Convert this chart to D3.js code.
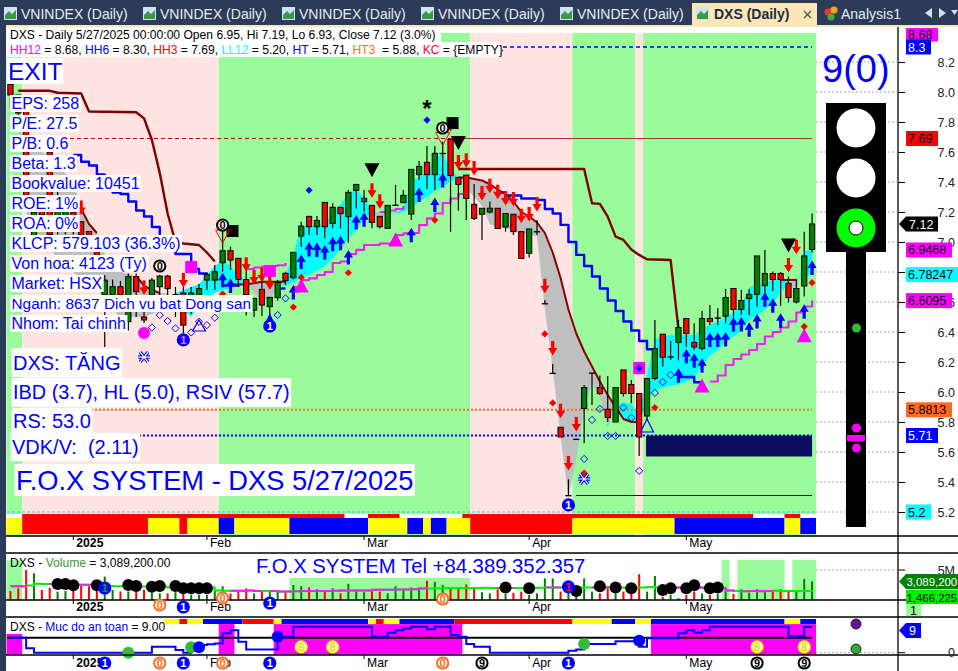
<!DOCTYPE html>
<html><head><meta charset="utf-8">
<script src="https://cdnjs.cloudflare.com/ajax/libs/d3/7.8.5/d3.min.js"></script>
<style>html,body{margin:0;padding:0;background:#fff;overflow:hidden}svg{display:block}text{font-family:"Liberation Sans",Arial,sans-serif}</style>
</head><body><div id="chart"></div>
<script>
// ---------- price data, oldest first ----------
const opens=[8.05,7.98,7.88,7.04,7.28,7.6,7.1,7.12,7.2,7.135,7.07,6.98,6.646,6.646,6.702,6.469,6.769,6.5,6.646,6.702,6.773,6.55,6.66,6.55,6.646,6.746,6.746,6.862,6.942,6.891,6.75,6.546,6.684,6.569,6.629,6.791,6.762,7.04,7.171,7.102,7.264,7.124,7.231,7.169,7.344,7.269,7.244,7.171,7.091,7.246,7.262,7.186,7.449,7.531,7.449,7.591,7.684,7.431,7.446,7.251,7.185,7.2,7.225,7.1,7.185,7.069,6.925,7.069,6.589,6.125,5.765,5.31,5.685,5.89,6.127,6.03,5.885,5.8,6.147,6.05,5.99,5.84,6.09,6.385,6.234,6.33,6.49,6.33,6.29,6.49,6.494,6.505,6.69,6.55,6.623,6.651,6.709,6.79,6.79,6.725,6.6,6.707,6.95];
const highs=[8.05,7.98,7.88,7.3,7.3,7.6,7.4,7.3,7.25,7.135,7.07,6.99,6.78,6.75,6.74,6.79,6.79,6.6,6.76,6.78,6.78,6.7,6.7,6.7,6.72,6.79,6.846,7.08,6.969,6.891,6.81,6.624,6.746,6.631,6.746,6.802,6.931,7.135,7.171,7.173,7.264,7.258,7.231,7.346,7.384,7.346,7.244,7.171,7.244,7.38,7.346,7.484,7.54,7.64,7.64,7.67,7.684,7.431,7.446,7.386,7.225,7.27,7.225,7.19,7.185,7.069,7.087,7.147,6.614,6.187,5.765,5.418,5.685,6.047,6.127,6.11,6.107,6.03,6.147,6.08,5.99,6.09,6.48,6.385,6.34,6.48,6.49,6.458,6.54,6.58,6.558,6.687,6.69,6.68,6.687,6.907,6.947,6.803,6.8,6.77,6.75,7.069,7.19];
const lows=[7.89,7.84,7.28,7.0,7.1,7.04,7.05,7.05,7.05,7.03,6.95,6.86,6.3,6.6,6.62,6.41,6.5,6.46,6.6,6.646,6.646,6.5,6.39,6.52,6.6,6.68,6.68,6.802,6.813,6.713,6.51,6.5,6.506,6.48,6.609,6.713,6.75,6.969,7.046,7.046,7.024,7.091,7.091,6.995,7.224,7.202,7.091,7.09,7.091,7.246,7.26,7.146,7.413,7.353,7.346,7.43,7.069,7.209,7.146,7.146,7.014,7.19,7.09,7.069,7.047,6.89,6.896,7.047,6.589,6.125,5.7,5.31,5.685,5.658,5.914,5.98,5.8,5.8,5.97,5.925,5.574,5.81,6.08,6.17,6.214,6.21,6.3,6.28,6.276,6.447,6.447,6.458,6.48,6.514,6.514,6.569,6.636,6.674,6.575,6.596,6.59,6.636,6.93];
const closes=[7.98,7.86,7.3,7.2,7.18,7.05,7.3,7.22,7.1,7.046,6.98,6.9,6.746,6.702,6.646,6.769,6.669,6.48,6.746,6.773,6.689,6.65,6.446,6.66,6.69,6.784,6.802,6.942,6.88,6.751,6.65,6.624,6.58,6.631,6.731,6.742,6.931,7.106,7.102,7.144,7.102,7.231,7.189,7.331,7.384,7.291,7.131,7.102,7.244,7.246,7.311,7.484,7.504,7.449,7.591,7.591,7.442,7.384,7.291,7.157,7.225,7.225,7.09,7.19,7.069,6.89,7.087,7.069,6.589,6.125,5.7,5.31,5.685,6.03,6.127,5.99,5.83,6.03,5.99,5.99,5.7,6.09,6.29,6.232,6.234,6.43,6.39,6.3,6.49,6.47,6.494,6.63,6.55,6.61,6.651,6.907,6.79,6.75,6.75,6.63,6.69,6.907,7.12];
// cloud between two averages
const cloudSlow=[8,7.75,7.72,7.66,7.6,7.57,7.5,7.46,7.4,7.22,7.12,7.06,6.92,6.84,6.8,6.79,6.77,6.71,6.68,6.66,6.66,6.6,6.55,6.5,6.58,6.62,6.66,6.68,6.69,6.71,6.735,6.735,6.735,6.73,6.72,6.71,6.73,6.76,6.78,6.81,6.84,6.89,6.95,7.02,7.08,7.16,7.2,7.2,7.2,7.19,7.2,7.23,7.27,7.3,7.34,7.37,7.4,7.43,7.43,7.42,7.41,7.385,7.35,7.32,7.27,7.2,7.17,7.13,7.06,6.93,6.76,6.55,6.39,6.27,6.17,6.07,5.98,5.9,5.82,5.8,5.8,5.95,6.01,6.03,6.04,6.05,6.07,6.09,6.18,6.24,6.28,6.33,6.37,6.41,6.48,6.51,6.55,6.59,6.66,6.72,6.76,6.78,6.782];
const cloudFast=[8,7.75,7.2,7.05,7,6.95,6.9,6.85,6.8,6.75,6.72,6.7,6.6,6.55,6.5,6.5,6.5,6.5,6.52,6.54,6.6,6.66,6.68,6.7,6.72,6.78,6.84,6.88,6.84,6.78,6.74,6.66,6.62,6.62,6.7,6.78,6.92,7.1,7.1,7.115,7.115,7.2,7.25,7.33,7.35,7.3,7.2,7.16,7.19,7.2,7.22,7.41,7.43,7.47,7.56,7.59,7.5,7.42,7.36,7.3,7.24,7.12,7.1,7.09,7.08,7.06,7.05,7.04,6.55,6.15,5.7,5.3,5.55,5.9,6.06,5.97,5.76,5.92,5.93,5.92,5.85,6.12,6.35,6.37,6.38,6.38,6.38,6.38,6.42,6.45,6.47,6.5,6.53,6.58,6.7,6.72,6.73,6.75,6.76,6.74,6.66,6.94,6.947];
// index / value line pieces
const trailLeft=[[1,8.008],[5,8.008],[6,7.995],[9,7.99],[10,7.87],[16,7.865],[17,7.824],[18,7.68],[19,7.46],[20,7.19],[21,7],[22,6.99],[24,6.98],[25,6.93],[26,6.87]];
const trailRight=[[57,7.487],[73,7.487],[74,7.258],[75,7.254],[76,7.169],[77,7.036],[78,7.014],[79,6.95],[80,6.914],[81,6.885],[84,6.88],[85,6.42]];
const emaLeft=[[9,7.22],[10,7.12],[11,7.06]];
const emaGap=[[16,6.77],[17,6.71],[18,6.68],[19,6.66]];
const emaRight=[[57,7.43],[58,7.43],[59,7.42],[60,7.41],[61,7.385],[62,7.35],[63,7.32],[64,7.27],[65,7.2],[66,7.17],[67,7.13],[68,7.06],[69,6.93],[70,6.76],[71,6.55],[72,6.39],[73,6.27],[74,6.17],[75,6.07],[76,5.98],[77,5.9],[78,5.82],[79,5.8],[80,5.8]];
const emaStub=[[28,6.717],[30,6.717],[32,6.735],[35,6.735]];
const emaStub2=[[98,6.747],[100,6.747]];
const blueStepA=[[8,7.58],[9,7.535],[10,7.51],[11,7.45],[12,7.4],[13,7.33],[14,7.32],[15,7.27],[16,7.21],[17,7.17],[18,7.1],[19,7.03],[20,6.95],[21,6.92],[22,6.92],[23,6.82],[24,6.79],[25,6.76]];
const blueStepB=[[27,6.71],[29,6.7]];
const blueStepC=[[34,6.69],[35,6.69]];
const blueStepD=[[62,7.33],[63,7.31],[64,7.31],[65,7.29],[66,7.29],[67,7.28],[68,7.22],[69,7.19],[70,7.114],[71,7],[72,6.914],[73,6.84],[74,6.77],[75,6.69],[76,6.61],[77,6.54],[78,6.47],[79,6.41],[80,6.34],[81,6.285],[82,6.28]];
const blueStepE=[[85,6.1],[86,6.1],[87,6.065],[88,6.065]];
const magentaUpper=[[30,6.82],[31,6.83],[32,6.835],[33,6.84],[34,6.845],[35,6.86]];
const magentaShort=[[47,7.2],[48,7.21],[49,7.22],[50,7.24]];
const magentaStopA=[[36,6.7],[37,6.746],[38,6.757],[39,6.78],[40,6.8],[41,6.86],[42,6.87],[43,6.92],[44,6.947],[45,6.98],[46,6.98],[47,6.99],[48,6.99],[49,7.046],[50,7.057],[51,7.06],[52,7.113],[53,7.158],[54,7.19],[55,7.26],[56,7.29],[57,7.32],[58,7.32]];
const magentaStopB=[[89,6.07],[90,6.11],[91,6.18],[92,6.22],[93,6.25],[94,6.28],[95,6.32],[96,6.37],[97,6.4],[98,6.43],[99,6.47],[100,6.53],[101,6.57],[102,6.6095]];
// signal markers: [bar, price]
const upArrows=[[27,6.795],[28,6.757],[36,6.713],[37,6.917],[38,7],[39,6.997],[40,6.98],[41,7.035],[42,7.042],[43,6.946],[44,7.18],[45,7.198],[51,7.095],[52,7.364],[54,7.297],[55,7.46],[85,6.158],[86,6.287],[87,6.258],[88,6.225],[89,6.396],[90,6.396],[91,6.4],[92,6.498],[93,6.5],[94,6.465],[95,6.52],[96,6.665],[97,6.625],[98,6.525],[101,6.585],[102,6.876]];
const downArrows=[[9,7.18],[17,6.646],[22,6.697],[30,6.802],[31,6.717],[32,6.731],[33,6.68],[46,7.295],[47,7.222],[56,7.735],[57,7.484],[58,7.495],[59,7.443],[60,7.276],[61,7.325],[62,7.285],[63,7.243],[64,7.236],[65,7.125],[66,7.136],[67,7.203],[68,6.658],[69,6.243],[70,5.825],[71,5.476],[72,5.736],[99,6.796],[100,6.918]];
const blackDown=[[46,7.431],[57,7.613],[99,6.93]];
const magentaUp=[[37,6.757],[49,7.064],[88,6.09],[101,6.425]];
const redDiamonds=[[27,6.653],[36,6.566],[37,6.764],[43,6.795],[54,7.146],[68,6.387],[69,5.927],[82,5.896],[102,6.729],[101,6.436],[73,5.46]];
const blueDiamonds=[[38,7.345],[53,7.813],[80,6.16]];
const openDiamonds=[[35,6.624],[34,6.513],[18,6.43],[19,6.513],[20,6.473],[21,6.424],[23,6.397],[24,6.468],[25,6.446],[26,6.495],[75,5.887],[74,5.814],[73,5.554],[76,5.707],[77,5.707],[78,5.896],[79,5.827],[80,5.474],[82,5.994],[83,6.067],[84,6.114]];
const magentaSquares=[[23,6.833],[33,6.807],[80,6.16]];
const blackSquares=[[28,7.073],[56,7.793]];
const blueOnes=[[22,6.347],[33,6.44],[71,5.247]];
const zeroBadges=[[19,6.84],[27,7.113],[55,7.76]];
const redOutline=[[27,7.08],[55,7.73]];
const snowflakes=[[17,6.233],[73,5.42]];
const levels={hh6:8.3,ht:5.71,ht3:5.8813,hh3:7.69,ll12:5.2,low:5.31};
// bands and ribbons: [firstBar, endBar, kind]
const regime=[[0,2,"g"],[2,27,"p"],[27,59,"g"],[59,72,"p"],[72,80,"g"],[80,81,"p"],[81,103,"g"]];
const ribbonMain=[[0,2,"y"],[2,18,"r"],[18,22,"y"],[22,23,"r"],[23,27,"y"],[27,29,"b"],[29,36,"y"],[36,46,"b"],[46,51,"y"],[51,53,"b"],[53,54,"y"],[54,56,"b"],[56,59,"y"],[59,72,"r"],[72,85,"y"],[85,99,"b"],[99,101,"y"],[101,103,"b"]];
const ribbonThin=[[2,43,"r"],[46,50,"r"],[58,95,"r"],[99,101,"r"]];
const ribbonSafety=[[20,22,"y"],[22,23,"r"],[23,25,"y"],[25,30,"b"],[30,34,"r"],[34,35,"y"],[35,46,"b"],[46,47,"y"],[47,48,"r"],[48,50,"y"],[50,57,"b"],[57,72,"r"],[72,77,"y"],[77,80,"b"],[80,82,"y"],[82,99,"b"],[99,101,"y"],[101,103,"b"]];
const safetyFill=[[0,2,6.5],[27,29,9.9],[34,58,9.9],[82,103,9.9]];
const volumeShade=[[0,2,6.7],[36,59,3.7],[91,92,6.7],[93,99,6.7],[100,103,6.7]];
// volume, millions
const volumes=[1.5,1.95,5,4.45,1.67,2.05,1.4,1.5,1.7,2.5,2.3,1.7,3.9,1.7,1.4,1.4,1.7,1.7,1.2,1.1,1.1,1.3,1.1,0.85,0.85,0.85,1.7,2.3,1.1,1.5,1.95,1.1,1.5,1.5,1.5,1.5,2.5,2.3,2.1,1.8,1.5,1.95,1.1,2.7,1.7,1.3,1.8,1.4,1.1,2.3,1.8,2.1,2.1,3.2,3,2.5,2.1,2.1,2.6,2.1,1.3,1.1,1.8,1,1.2,1.4,0.85,1.1,3.6,3.6,1.4,2.2,0.7,3.6,1.4,1.1,1.95,1.1,1.4,1.1,4.3,1.4,4.0,0.55,0.85,0.3,0.85,1.4,1.1,0.85,1,1.5,1,1.8,1.2,1.8,1.4,1.4,1.8,1.4,1.5,3.5,3.089];
const volMA=[2.3,2.3,2.4,2.7,2.65,2.65,2.65,2.6,2.55,2.55,2.55,2.4,2.35,2.3,2.3,2.3,2.25,2.25,2.2,2.2,2.1,2.1,2.1,2.1,2.1,2.1,1.6,1.55,1.55,1.55,1.6,1.5,1.5,1.5,1.4,1.4,1.45,1.5,1.5,1.5,1.5,1.55,1.6,1.6,1.6,1.6,1.7,1.7,1.7,1.75,1.75,1.8,1.9,1.9,1.95,2,2,2,2,2,2.05,2,2,2,2,2,2,2.05,2.1,2.1,2.1,2.1,2.1,2.1,2.1,2.1,2.15,2.1,2.1,2.1,2.1,2.15,2.1,2.1,2.1,2.1,2.1,2.1,2.05,2.05,2,1.6,1.5,1.45,1.5,1.45,1.5,1.55,1.5,1.5,1.5,1.5,1.466];
const volMAMagenta=[[0,2],[5,11],[28,32],[33,36],[36,53],[62,64],[68,70],[74,76],[84,92],[93,97]];
const volDots=[[6,2.65],[7,2.65],[8,2.45],[11,2.45],[15,2.5],[16,2.35],[18,2.2],[19,2.35],[21,2.35],[22,1.95],[23,1.95],[24,1.95],[25,1.95],[63,2.1],[66,1.95],[72,1.5],[75,2.3],[77,2.1],[79,1.95],[83,1.65],[84,1.95],[86,1.95],[87,2.45],[89,1.95],[90,2.1]];
const volOnes=[[12,2],[71,2.2]];
// safety level
const safety=[5.2,5.2,1.5,0,0,0,0,0,0,0,0,0,0,0,0,0,0,0,2.1,2.1,2.1,0.9,0,1.8,2.65,2.9,3.2,6.7,7.8,3.8,1.15,1.15,1.15,1.15,5.5,5.5,9,9,9,9,9,9,9,9,9,9,5.5,5.5,6.9,7.8,8.4,9,9,8.1,9,9,6.1,5.5,3,2.1,2.1,0,0,0,0,0,0,0,0,0,0,0.7,1.15,3,3,3,3,4,4,4,2.1,5,5,5,5,6.7,7.8,6.9,7.8,9,9,9,9,9,9,9,9,9,9,5.8,5.8,9,9];
const safetyDots=[[15,0,"#33bb33"],[23,1.9,"#33bb33"],[24,1.9,"#0000ff"],[34,5.5,"#0000ff"],[73,3,"#33bb33"],[80,4.1,"#0000ff"]];
const safetyEights=[[37,2],[41,2],[95,2],[101,2]];
const axisBars=[8,25,45,66,86];
const axisNames=["2025","Feb","Mar","Apr","May"];
const rowOnes=[12,22,33,71];
const rowZeros=[19,27,55];
const rowNines=[60,95,101];
const priceTicks=[8.2,8,7.8,7.6,7.4,7.2,7,6.8,6.6,6.4,6.2,6,5.8,5.6,5.4,5.2];
const infoRows=["EPS: 258","P/E: 27.5","P/B: 0.6","Beta: 1.3","Bookvalue: 10451","ROE: 1%","ROA: 0%","KLCP: 579.103 (36.3%)","Von hoa: 4123 (Ty)","Market: HSX","Nganh: 8637 Dich vu bat Dong san","Nhom: Tai chinh"];
const infoSizes=[16,16,16,16,16,16,16,16,16,16,15.4,16];
const headerRow2=[["HH12","#ff00ff"],[" = 8.68, ","#000"],["HH6","#0000ff"],[" = 8.30, ","#000"],["HH3","#ff0000"],[" = 7.69, ","#000"],["LL12","#00ffff"],[" = 5.20, ","#000"],["HT","#0000ff"],[" = 5.71, ","#000"],["HT3","#ff6a20"],["  = 5.88, ","#000"],["KC","#ff0033"],[" = {EMPTY}","#000"]];
const priceTags=[["8.3",8.3,"#0000ff","#fff",25],["7.69",7.69,"#ff0000","#000",32],["6.9468",6.9468,"#ff00ff","#000",46],["6.78247",6.78247,"#00ffff","#000",52],["6.6095",6.6095,"#ff00ff","#000",46],["5.8813",5.8813,"#ff6a20","#000",46],["5.71",5.71,"#0000ff","#fff",32],["5.2",5.2,"#00ffff","#000",25]];
const tabStarts=[4,143,282,421,560];

// ---------- layout ----------
const W=958,H=671;
const colors={g:"#99fb99",p:"#ffe4e1",r:"#ff0000",y:"#ffff00",b:"#0000ff"};
const svg=d3.select("#chart").append("svg").attr("width",W).attr("height",H).attr("viewBox",`0 0 ${W} ${H}`);
const bars=d3.range(opens.length);
const xBand=d3.scaleBand().domain(bars).range([6.5,816]);
const bw=xBand.bandwidth();
const x=i=>xBand(i)+bw/2;
const xEdge=i=>6.5+i*bw;
const y=d3.scaleLinear().domain([8.2,5.2]).range([62,512]);
const yVol=d3.scaleLinear().domain([0,5]).range([600,570]);
const ySafe=d3.scaleLinear().domain([0,9]).range([652.7,626.7]);
const defs=svg.append("defs");

// background frame
svg.append("rect").attr("width",W).attr("height",25).attr("fill","#2c3b58");
svg.append("rect").attr("x",0).attr("width",6).attr("height",H).attr("fill","#2c3b58");
svg.append("rect").attr("x",6).attr("y",25).attr("width",W-6).attr("height",2).attr("fill","#fbe7b5");

// tabs
const tabG=svg.append("g");
tabStarts.forEach(t=>{
  tabG.append("rect").attr("x",t).attr("y",7).attr("width",13).attr("height",13).attr("fill","#cfe3f4");
  tabG.append("path").attr("d",`M${t+1} 19 L${t+1} 15 L${t+5} 11 L${t+8} 14 L${t+12} 10 L${t+12} 19Z`).attr("fill","#3a9a4a");
  tabG.append("text").attr("x",t+17).attr("y",19).attr("font-size",14).attr("fill","#e6ecf3").text("VNINDEX (Daily)");
});
tabG.append("rect").attr("x",692).attr("y",3).attr("width",125).attr("height",22).attr("fill","#fbe7b5");
tabG.append("rect").attr("x",696).attr("y",7).attr("width",13).attr("height",13).attr("fill","#cfe3f4");
tabG.append("path").attr("d","M697 19 L697 15 L701 11 L704 14 L708 10 L708 19Z").attr("fill","#3a9a4a");
tabG.append("text").attr("x",714).attr("y",19).attr("font-size",14).attr("font-weight","bold").attr("fill","#1c2a44").text("DXS (Daily)");
tabG.append("path").attr("d","M804 11 L811 18 M811 11 L804 18").attr("stroke","#555").attr("stroke-width",1.3);
[["#e23b2e",828,12],["#f2a21a",834,10],["#3fae49",831,17]].forEach(c=>tabG.append("circle").attr("cx",c[1]).attr("cy",c[2]).attr("r",3.6).attr("fill",c[0]));
tabG.append("text").attr("x",841).attr("y",19).attr("font-size",14).attr("fill","#e6ecf3").text("Analysis1");
tabG.append("path").attr("d","M932 8 L925 13 L932 18Z M939 8 L946 13 L939 18Z M951 10 L958 10 L954.5 15Z").attr("fill","#d7dde6");

// regime bands
svg.append("g").selectAll("rect").data(regime).join("rect")
  .attr("x",d=>xEdge(d[0])).attr("width",d=>(d[1]-d[0])*bw).attr("y",33).attr("height",481)
  .attr("fill",d=>colors[d[2]]);

// cloud (difference chart): gray where fast is under slow, cyan where fast is over slow
const areaAbove=d3.area().x(i=>x(i)).y0(0).y1(i=>y(cloudFast[i]));
const areaBelow=d3.area().x(i=>x(i)).y0(H).y1(i=>y(cloudFast[i]));
const areaBetween=d3.area().x(i=>x(i)).y0(i=>y(cloudSlow[i])).y1(i=>y(cloudFast[i]));
defs.append("clipPath").attr("id","clipAbove").append("path").attr("d",areaAbove(bars));
defs.append("clipPath").attr("id","clipBelow").append("path").attr("d",areaBelow(bars));
svg.append("path").attr("d",areaBetween(bars)).attr("fill","#bfbfbf").attr("clip-path","url(#clipAbove)");
svg.append("path").attr("d",areaBetween(bars)).attr("fill","#00ffff").attr("clip-path","url(#clipBelow)");

// level lines
const hline=(v,x0,x1,col,w,dash)=>svg.append("line").attr("x1",x0).attr("x2",x1).attr("y1",y(v)).attr("y2",y(v)).attr("stroke",col).attr("stroke-width",w).attr("stroke-dasharray",dash||null);
hline(levels.ll12,7,816,"#33cccc",1,"3,2");
hline(levels.hh6,503,812,"#0000ff",1.5,"4,3");
hline(levels.hh3,70,457,"#c00000",1,"4,3");
hline(levels.hh3,457,812,"#a83232",1.2);
hline(levels.ht3,11,812,"#ff6a20",2,"2,2");
hline(levels.ht,11,812,"#0000ff",2,"2,2");
hline(levels.low,576,812,"#10105f",1.2);
svg.append("rect").attr("x",x(81)-1).attr("width",x(102)-x(81)+1).attr("y",y(levels.ht)).attr("height",21).attr("fill","#0e0e60");

// lines
const lin=d3.line().x(d=>x(d[0])).y(d=>y(d[1]));
const stp=d3.line().x(d=>x(d[0])).y(d=>y(d[1])).curve(d3.curveStepAfter);
const draw=(gen,data,col,w)=>svg.append("path").attr("d",gen(data)).attr("fill","none").attr("stroke",col).attr("stroke-width",w).attr("stroke-linejoin","round");
[blueStepA,blueStepB,blueStepC,blueStepD,blueStepE].forEach(d=>draw(stp,d,"#0000ff",2.4));
[emaLeft,emaGap,emaStub,emaStub2,emaRight].forEach(d=>draw(lin,d,"#8b0000",2));
[trailLeft,trailRight].forEach(d=>draw(lin,d,"#800000",2.4));
[magentaUpper,magentaShort,magentaStopA,magentaStopB].forEach(d=>draw(stp,d,"#ee22ee",2.2));

// candles
const candles=svg.append("g");
candles.selectAll("line").data(bars).join("line")
  .attr("x1",x).attr("x2",x).attr("y1",i=>y(highs[i])).attr("y2",i=>y(lows[i]))
  .attr("stroke","#000").attr("stroke-width",1.2);
candles.selectAll("rect").data(bars).join("rect")
  .attr("x",i=>x(i)-2.6).attr("width",5.2)
  .attr("y",i=>y(Math.max(opens[i],closes[i])))
  .attr("height",i=>Math.max(0.3,Math.abs(y(opens[i])-y(closes[i]))))
  .attr("fill",i=>closes[i]>=opens[i]?"#008000":"#ff0000")
  .attr("stroke","#000").attr("stroke-width",1);

// markers
const mk=svg.append("g");
const upPath=(cx,t)=>`M${cx} ${t}L${cx+4.6} ${t+7.5}L${cx+1.6} ${t+7.5}L${cx+1.6} ${t+14.5}L${cx-1.6} ${t+14.5}L${cx-1.6} ${t+7.5}L${cx-4.6} ${t+7.5}Z`;
const downPath=(cx,t)=>`M${cx} ${t}L${cx+4.6} ${t-7.5}L${cx+1.6} ${t-7.5}L${cx+1.6} ${t-14.5}L${cx-1.6} ${t-14.5}L${cx-1.6} ${t-7.5}L${cx-4.6} ${t-7.5}Z`;
const diamond=(cx,cy,r)=>`M${cx} ${cy-r}L${cx+r} ${cy}L${cx} ${cy+r}L${cx-r} ${cy}Z`;
openDiamonds.forEach(d=>mk.append("path").attr("d",diamond(x(d[0]),y(d[1]),3.6)).attr("fill","none").attr("stroke","#0000ff").attr("stroke-width",1));
upArrows.forEach(d=>mk.append("path").attr("d",upPath(x(d[0]),y(d[1]))).attr("fill","#0000ff"));
downArrows.forEach(d=>mk.append("path").attr("d",downPath(x(d[0]),y(d[1]))).attr("fill","#ff0000"));
blackDown.forEach(d=>mk.append("path").attr("d",`M${x(d[0])} ${y(d[1])}L${x(d[0])+7.5} ${y(d[1])-14}L${x(d[0])-7.5} ${y(d[1])-14}Z`).attr("fill","#000"));
magentaUp.forEach(d=>mk.append("path").attr("d",`M${x(d[0])} ${y(d[1])}L${x(d[0])+7.5} ${y(d[1])+14}L${x(d[0])-7.5} ${y(d[1])+14}Z`).attr("fill","#ff00ff"));
magentaSquares.forEach(d=>mk.append("rect").attr("x",x(d[0])-6).attr("y",y(d[1])-6).attr("width",12).attr("height",12).attr("fill","#ff00ff"));
blackSquares.forEach(d=>mk.append("rect").attr("x",x(d[0])-4).attr("y",y(d[1])-6).attr("width",12).attr("height",12).attr("fill","#000"));
redDiamonds.forEach(d=>mk.append("path").attr("d",diamond(x(d[0]),y(d[1]),3.6)).attr("fill","#ff0000"));
blueDiamonds.forEach(d=>mk.append("path").attr("d",diamond(x(d[0]),y(d[1]),3.6)).attr("fill","#0000ff"));
redOutline.forEach(d=>mk.append("path").attr("d",`M${x(d[0])-7} ${y(d[1])}L${x(d[0])+7} ${y(d[1])}L${x(d[0])} ${y(d[1])+13}Z`).attr("fill","none").attr("stroke","#ff0000").attr("stroke-width",1));
mk.append("circle").attr("cx",x(17)).attr("cy",y(6.393)).attr("r",6).attr("fill","#ff00ff");
mk.append("path").attr("d",`M${x(81)} ${y(5.82)}L${x(81)+6.5} ${y(5.82)+13}L${x(81)-6.5} ${y(5.82)+13}Z`).attr("fill","none").attr("stroke","#0000ff").attr("stroke-width",1.2);
mk.append("path").attr("d",`M${x(24)} ${y(6.48)}L${x(24)+6.5} ${y(6.48)+11}L${x(24)-6.5} ${y(6.48)+11}Z`).attr("fill","none").attr("stroke","#0000ff").attr("stroke-width",1.2);
snowflakes.forEach(d=>{const cx=x(d[0]),cy=y(d[1]);
  const p=`M${cx-6} ${cy}L${cx+6} ${cy}M${cx-4} ${cy-5}L${cx+4} ${cy+5}M${cx+4} ${cy-5}L${cx-4} ${cy+5}`;
  mk.append("path").attr("d",p).attr("stroke","#0000ff").attr("stroke-width",3.4).attr("fill","none");
  mk.append("path").attr("d",p).attr("stroke","#fff").attr("stroke-width",1.2).attr("fill","none");
});
mk.append("text").attr("x",x(53)).attr("y",y(7.91)+11).attr("text-anchor","middle").attr("font-size",24).attr("font-weight","bold").attr("fill","#000").text("*");

function badge(g,cx,cy,fill,stroke,col,label){
  g.append("circle").attr("cx",cx).attr("cy",cy).attr("r",5.6).attr("fill",fill).attr("stroke",stroke).attr("stroke-width",2);
  g.append("text").attr("x",cx).attr("y",cy+4).attr("text-anchor","middle").attr("font-size",11).attr("font-weight","bold").attr("fill",col).text(label);
}
blueOnes.forEach(d=>{
  if(d[0]===33) mk.append("path").attr("d",`M${x(33)} ${y(d[1])-13}L${x(33)+6} ${y(d[1])}L${x(33)-6} ${y(d[1])}Z`).attr("fill","#0000ff");
  badge(mk,x(d[0]),y(d[1]),"#0000ff","#0000ff",d[0]===22?"#ff66ff":"#fff","1");
});
zeroBadges.forEach(d=>badge(mk,x(d[0]),y(d[1]),"#fff","#000","#000","0"));

// info boxes
const boxes=svg.append("g");
function boxText(tx,top,h,size,str,pad){
  const g=boxes.append("g");
  const r=g.append("rect").attr("y",top).attr("height",h).attr("fill","#fff");
  const t=g.append("text").attr("x",tx).attr("y",top+h/2+size*0.35).attr("font-size",size).attr("fill","#0000ff").attr("xml:space","preserve").style("white-space","pre").text(str);
  const w=t.node().getComputedTextLength();
  r.attr("x",tx-(pad||1.5)).attr("width",w+2*(pad||1.5));
}
boxText(8,58,26,24.5,"EXIT",1);
infoRows.forEach((s,k)=>boxText(11.5,95+k*20,17,infoSizes[k],s));
boxText(13,348,29,20,"DXS: TĂNG");
boxText(13,378,29,19.9,"IBD (3.7), HL (5.0), RSIV (57.7)");
boxText(13,408,25,20,"RS: 53.0");
boxText(12,433,28,20,"VDK/V:  (2.11)");
boxText(16,464,32,27.3,"F.O.X SYSTEM - DXS 5/27/2025");

// header
svg.append("rect").attr("x",6).attr("y",27).attr("width",435).attr("height",15).attr("fill","#fff");
svg.append("rect").attr("x",6).attr("y",42).attr("width",494).attr("height",15).attr("fill","#fff");
svg.append("text").attr("x",10).attr("y",39).attr("font-size",12.1).attr("fill","#000").text("DXS - Daily 5/27/2025 00:00:00 Open 6.95, Hi 7.19, Lo 6.93, Close 7.12 (3.0%)");
const h2=svg.append("text").attr("x",10).attr("y",54).attr("font-size",12.1).attr("xml:space","preserve").style("white-space","pre");
headerRow2.forEach(d=>h2.append("tspan").attr("fill",d[1]).text(d[0]));

// ribbons
const ribbon=(data,top,h)=>svg.append("g").selectAll("rect").data(data).join("rect")
  .attr("x",d=>xEdge(d[0])).attr("width",d=>(d[1]-d[0])*bw).attr("y",top).attr("height",h).attr("fill",d=>colors[d[2]]);
svg.append("rect").attr("x",7).attr("y",514).attr("width",809).attr("height",22).attr("fill","#fff");
svg.append("g").selectAll("rect").data(regime).join("rect").attr("x",d=>xEdge(d[0])).attr("width",d=>(d[1]-d[0])*bw).attr("y",534).attr("height",2).attr("fill",d=>colors[d[2]]);
ribbon(ribbonThin,514,4);
ribbon(ribbonMain,518,16);

// volume pane
svg.append("g").selectAll("rect").data(volumeShade).join("rect")
  .attr("x",d=>xEdge(d[0])).attr("width",d=>(d[1]-d[0])*bw).attr("y",d=>yVol(d[2])).attr("height",d=>600-yVol(d[2])).attr("fill",colors.g);
svg.append("g").selectAll("rect").data(bars).join("rect")
  .attr("x",i=>x(i)-1).attr("width",2).attr("y",i=>yVol(volumes[i])).attr("height",i=>600-yVol(volumes[i]))
  .attr("fill",i=>closes[i]>=opens[i]?"#008000":"#ff0000");
const volLine=d3.line().x(i=>x(i)).y(i=>yVol(volMA[i])).curve(d3.curveStepAfter);
svg.append("path").attr("d",volLine(bars)).attr("fill","none").attr("stroke","#00ee00").attr("stroke-width",2);
volMAMagenta.forEach(r=>svg.append("path").attr("d",volLine(d3.range(r[0],r[1]+1).filter(i=>i<bars.length))).attr("fill","none").attr("stroke","#ee22ee").attr("stroke-width",2));
svg.append("g").selectAll("circle").data(volDots).join("circle").attr("cx",d=>x(d[0])).attr("cy",d=>yVol(d[1])).attr("r",6).attr("fill","#000");
volOnes.forEach((d,k)=>badge(svg,x(d[0]),yVol(d[1]),"#0000ff","#0000ff",k?"#ff0000":"#00aa00","1"));
svg.append("text").attr("x",10).attr("y",567).attr("font-size",12.1).html('DXS - <tspan fill="#339933">Volume</tspan> = 3,089,200.00');
svg.append("text").attr("x",256).attr("y",573).attr("font-size",20.3).attr("fill","#0000ff").text("F.O.X SYSTEM Tel +84.389.352.357");

// safety pane
svg.append("g").selectAll("rect").data(safetyFill).join("rect")
  .attr("x",d=>xEdge(d[0])).attr("width",d=>(d[1]-d[0])*bw).attr("y",d=>ySafe(d[2])).attr("height",d=>ySafe(-0.8)-ySafe(d[2])).attr("fill","#ff00ff");
ribbon(ribbonSafety,619,5);
svg.append("line").attr("x1",7).attr("x2",812).attr("y1",ySafe(5.2)).attr("y2",ySafe(5.2)).attr("stroke","#000").attr("stroke-width",2);
svg.append("path").attr("d",d3.line().x(i=>x(i)).y(i=>ySafe(safety[i])).curve(d3.curveStepAfter)(bars)).attr("fill","none").attr("stroke","#0000ff").attr("stroke-width",2);
svg.append("g").selectAll("circle").data(safetyDots).join("circle").attr("cx",d=>x(d[0])).attr("cy",d=>ySafe(d[1])).attr("r",6).attr("fill",d=>d[2]);
safetyEights.forEach(d=>badge(svg,x(d[0]),ySafe(d[1]),"#fff","#ffff00","#dede00","8"));
svg.append("text").attr("x",10).attr("y",631).attr("font-size",12).html('DXS - <tspan fill="#0000ff">Muc do an toan</tspan> = 9.00');

// pane separators and time axes
[[536,553,547],[600,617,611],[655,671,667]].forEach(row=>{
  const ax=d3.axisBottom(xBand).tickValues(axisBars).tickSize(4).tickPadding(2).tickFormat((d,k)=>axisNames[k]);
  const g=svg.append("g").attr("transform",`translate(0,${row[0]})`).call(ax);
  g.select(".domain").remove();
  g.selectAll(".tick line").attr("stroke","#000");
  g.selectAll(".tick text").attr("text-anchor","start").attr("dx",3).attr("y",row[2]-row[0]).attr("dy",0).attr("font-size",12.2).attr("font-family",'"Liberation Sans"').attr("fill","#000")
    .attr("font-weight",(d,k)=>k?null:"bold");
});
[536,553,600,617,655].forEach(v=>svg.append("line").attr("x1",6).attr("x2",W).attr("y1",v).attr("y2",v).attr("stroke","#000").attr("stroke-width",1.3));
rowOnes.forEach(i=>badge(svg,x(i),663,"#0000ff","#0000ff","#fff","1"));
rowZeros.forEach(i=>badge(svg,x(i),663,"#fff","#ff6a20","#ff6a20","0"));
rowNines.forEach(i=>badge(svg,x(i),663,"#fff","#000","#000","9"));
badge(svg,x(22),607,"#0000ff","#0000ff","#fff","1");
badge(svg,x(33),603,"#0000ff","#0000ff","#fff","1");
badge(svg,x(19),605,"#fff","#ff6a20","#ff6a20","0");
badge(svg,x(27),598,"#fff","#ff6a20","#ff6a20","0");
badge(svg,x(55),599,"#fff","#ff6a20","#ff6a20","0");

// right axis
svg.append("line").attr("x1",898).attr("x2",898).attr("y1",27).attr("y2",H).attr("stroke","#000").attr("stroke-width",1.3);
const rightAxis=svg.append("g").attr("transform","translate(898,0)").call(d3.axisRight(y).tickValues(priceTicks).tickSize(7).tickFormat(d3.format(".1f")));
rightAxis.select(".domain").remove();
rightAxis.selectAll(".tick text").attr("x",57).attr("text-anchor","end").attr("font-size",12.5).attr("font-family",'"Liberation Sans"').attr("fill","#222");
rightAxis.selectAll(".tick line").attr("stroke","#000");
const grid=(gy)=>svg.append("line").attr("x1",816).attr("x2",898).attr("y1",gy).attr("y2",gy).attr("stroke","#aaa").attr("stroke-dasharray","2,2");
priceTicks.forEach(v=>grid(y(v)));
grid(yVol(5)); grid(ySafe(0));
svg.append("line").attr("x1",898).attr("x2",905).attr("y1",yVol(5)).attr("y2",yVol(5)).attr("stroke","#000");
svg.append("line").attr("x1",898).attr("x2",905).attr("y1",ySafe(0)).attr("y2",ySafe(0)).attr("stroke","#000");
svg.append("text").attr("x",955).attr("y",yVol(5)+4.5).attr("text-anchor","end").attr("font-size",12.5).attr("fill","#222").text("5M");
svg.append("text").attr("x",955).attr("y",ySafe(0)+4.5).attr("text-anchor","end").attr("font-size",12.5).attr("fill","#222").text("0");

// traffic light
svg.append("text").attr("x",822).attr("y",82).attr("font-size",38).attr("fill","#0000ff").text("9(0)");
svg.append("rect").attr("x",826).attr("y",103).attr("width",60).attr("height",149).attr("fill","#000");
svg.append("rect").attr("x",846).attr("y",252).attr("width",20).attr("height",275).attr("fill","#000");
[[128,"#fff"],[178,"#fff"],[228,"#00ff00"]].forEach(c=>svg.append("circle").attr("cx",856).attr("cy",c[0]).attr("r",19.5).attr("fill",c[1]));
svg.append("circle").attr("cx",856).attr("cy",228).attr("r",7).attr("fill","#fff").attr("stroke","#000").attr("stroke-width",1);
svg.append("circle").attr("cx",856.5).attr("cy",328).attr("r",4.5).attr("fill","#33bb33");
svg.append("circle").attr("cx",856.5).attr("cy",428).attr("r",4.5).attr("fill","#ff00ff");
svg.append("circle").attr("cx",856.5).attr("cy",448).attr("r",4.5).attr("fill","#ff00ff");
svg.append("rect").attr("x",847).attr("y",435).attr("width",18).attr("height",6).attr("fill","#ff00ff");
svg.append("circle").attr("cx",856).attr("cy",624).attr("r",5).attr("fill","#66119f").attr("stroke","#000").attr("stroke-width",0.8);
svg.append("circle").attr("cx",856).attr("cy",649).attr("r",5).attr("fill","#33aa33").attr("stroke","#000").attr("stroke-width",0.8);

// value tags
function tag(tx,top,w,h,bg,fg,str,anchorX,size){
  svg.append("rect").attr("x",tx).attr("y",top).attr("width",w).attr("height",h).attr("fill",bg);
  svg.append("text").attr("x",anchorX||tx+2).attr("y",top+h/2+4.5).attr("font-size",size||12.5).attr("fill",fg).text(str);
}
tag(906,28,32,13.5,"#ff00ff","#000","8.68",908);
priceTags.forEach(d=>tag(906,y(d[1])-7.5,d[4],15,d[2],d[3],d[0],908));
function arrowTag(top,right,h,bg,fg,str,size,tx){
  svg.append("path").attr("d",`M899 ${top+h/2}L906 ${top}L${right} ${top}L${right} ${top+h}L906 ${top+h}Z`).attr("fill",bg);
  svg.append("text").attr("x",tx||909).attr("y",top+h/2+4.5).attr("font-size",size||12.5).attr("fill",fg).text(str);
}
arrowTag(y(7.12)-7.5,938,15,"#000","#fff","7.12");
arrowTag(574,958,15,"#008000","#fff","3,089,200",11.4,906.5);
tag(906,590,52,14,"#00ee00","#000","1,466,225",906.5,11.4);
tag(906,604,15,12,"#99fb99","#000","1",910);
arrowTag(623,921,15,"#0000ff","#fff","9");
</script></body></html>
